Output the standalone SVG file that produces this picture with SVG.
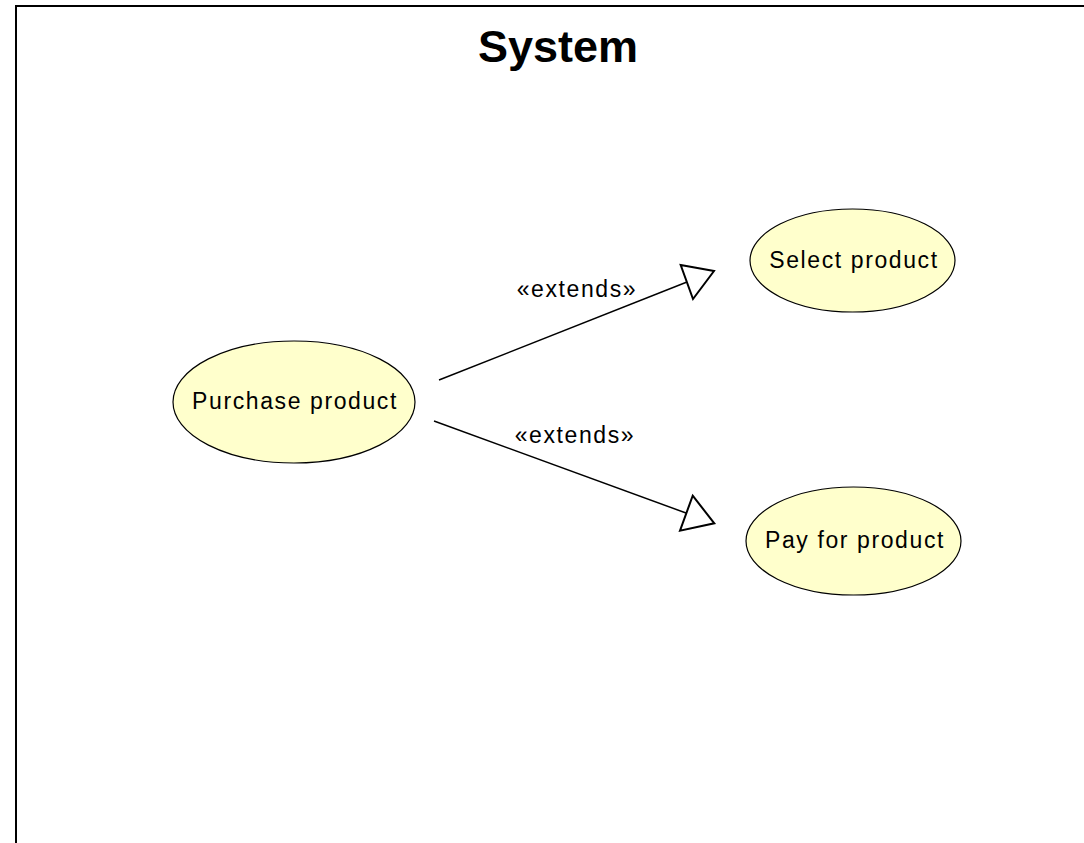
<svg xmlns="http://www.w3.org/2000/svg" width="1084" height="843" viewBox="0 0 1084 843">
<style>
.uc{fill:#FFFFCC;stroke:#000;stroke-width:1.2}
.lbl{font-family:"Liberation Sans",Arial,sans-serif;font-size:23px;letter-spacing:1.6px;fill:#000;text-anchor:middle}
.edge{stroke:#000;stroke-width:1.5;fill:none}
.head{fill:#fff;stroke:#000;stroke-width:2;stroke-linejoin:miter}
</style>
<rect width="1084" height="843" fill="#fff"/>
<g id="system">
<rect x="16" y="6" width="1100" height="900" fill="none" stroke="#000" stroke-width="2"/>
<text x="558" y="62" font-family="'Liberation Sans',Arial,sans-serif" font-size="45" font-weight="bold" text-anchor="middle">System</text>
</g>
<g id="connectors">
<line class="edge" x1="439" y1="380" x2="687" y2="282"/>
<polygon class="head" points="680.7,265 714,271 693,299"/>
<text class="lbl" x="577" y="297">«extends»</text>
<line class="edge" x1="434" y1="421" x2="686" y2="513"/>
<polygon class="head" points="692.7,495.7 714.3,523.3 680,530.7"/>
<text class="lbl" x="575" y="443">«extends»</text>
</g>
<g id="purchase">
<ellipse class="uc" cx="294" cy="402" rx="121" ry="61"/>
<text class="lbl" x="295" y="409">Purchase product</text>
</g>
<g id="select">
<ellipse class="uc" cx="852.5" cy="260.5" rx="102.5" ry="51.5"/>
<text class="lbl" x="854" y="268">Select product</text>
</g>
<g id="pay">
<ellipse class="uc" cx="853.5" cy="541" rx="107.5" ry="54"/>
<text class="lbl" x="855" y="548">Pay for product</text>
</g>
</svg>
